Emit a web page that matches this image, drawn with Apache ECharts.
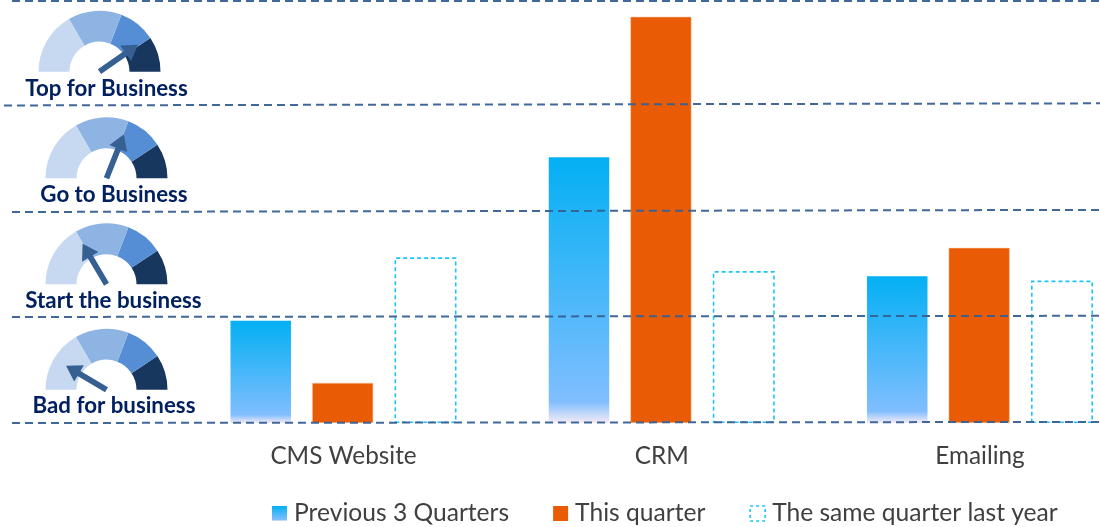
<!DOCTYPE html>
<html>
<head>
<meta charset="utf-8">
<style>html,body{margin:0;padding:0;background:#fff}#c{width:1100px;height:527px}</style>
<script src="https://cdn.jsdelivr.net/npm/echarts@6/dist/echarts.min.js"></script>
</head>
<body>
<div id="c"></div>
<script>
// Data
const categories = ['CMS Website', 'CRM', 'Emailing'];
const previous3Quarters = [0.97, 2.52, 1.39];
const thisQuarter = [0.38, 3.85, 1.66];
const sameQuarterLastYear = [1.57, 1.44, 1.35];
const bandLevelsLeft = [0, 1.005, 2.0, 3.01, 4];
const bandLevelsRight = [0.01, 1.016, 2.02, 3.03, 4];
const bandStartX = [12, 12, 12, 4, 12];
const gaugeNames = ['Top for Business', 'Go to Business', 'Start the business', 'Bad for business'];
const gaugeValues = [80.5, 62, 33, 17];

// Layout
const gaugeCenters = [[99.5, 71.7], [106.5, 178.3], [106.5, 284.3], [106.5, 389.7]];
const gaugeTitleOffsets = [[7, 17.5], [7.5, 17], [7, 17], [7.5, 16.5]];
const gaugeStops = [[0.333, '#C6D9F1'], [0.617, '#8EB4E3'], [0.814, '#558ED5'], [1, '#17375E']];
const arrowIcon = 'path://M50 0 L100 32 L65 32 L65 100 L35 100 L35 32 L0 32 Z';
const prevGradient = {
  type: 'linear', x: 0, y: 0, x2: 0, y2: 1,
  colorStops: [
    { offset: 0, color: '#03B0F3' },
    { offset: 0.92, color: '#80BEFF' },
    { offset: 1, color: '#F6EBF6' }
  ]
};

const valueAxisBase = { type: 'value', min: 0, max: 4, interval: 1, show: false };

const dividerSeries = bandLevelsLeft.map((lv, i) => ({
  type: 'line',
  name: 'divider' + i,
  xAxisIndex: 0,
  yAxisIndex: 0,
  silent: true,
  symbol: 'none',
  z: 5,
  clip: false,
  lineStyle: { color: '#376092', width: 2, type: [8, 5], opacity: 0.95 },
  data: [[bandStartX[i], lv], [1100, bandLevelsRight[i]]]
}));

const gaugeSeries = gaugeNames.map((name, i) => ({
  type: 'gauge',
  name: name,
  center: gaugeCenters[i],
  radius: 61,
  startAngle: 180,
  endAngle: 0,
  min: 0,
  max: 100,
  z: 6,
  silent: true,
  axisLine: { lineStyle: { width: 31, color: gaugeStops } },
  splitLine: { show: false },
  axisTick: { show: false },
  axisLabel: { show: false },
  progress: { show: false },
  anchor: { show: false },
  pointer: { icon: arrowIcon, length: 47, width: 19, itemStyle: { color: '#376092' } },
  title: {
    show: true,
    offsetCenter: gaugeTitleOffsets[i],
    color: '#002060',
    fontFamily: 'Lato',
    fontWeight: 700,
    fontSize: 22.3
  },
  detail: { show: false },
  data: [{ name: name, value: gaugeValues[i] }]
}));

const option = {
  backgroundColor: '#fff',
  animation: false,
  textStyle: { fontFamily: 'Lato' },
  grid: [
    { left: 0, top: 1, width: 1100, height: 422 },
    { left: 343.5, top: 1, width: 636.5, height: 422 }
  ],
  xAxis: [
    { type: 'value', gridIndex: 0, min: 0, max: 1100, show: false },
    {
      type: 'category', gridIndex: 1, data: categories, boundaryGap: false,
      axisLine: { show: false }, axisTick: { show: false },
      axisLabel: { color: '#404040', fontSize: 24.3, margin: 21, fontFamily: 'Lato' }
    }
  ],
  yAxis: [
    Object.assign({ gridIndex: 0 }, valueAxisBase),
    Object.assign({ gridIndex: 1 }, valueAxisBase)
  ],
  legend: {
    left: 267, top: 496, itemWidth: 15, itemHeight: 15, itemGap: 44,
    selectedMode: false,
    textStyle: { color: '#404040', fontSize: 24.6, fontFamily: 'Lato', padding: [0, 0, 0, 2] },
    data: [
      { name: 'Previous 3 Quarters', icon: 'rect' },
      { name: 'This quarter', icon: 'rect', itemStyle: { color: '#E95C05', borderWidth: 0 } },
      {
        name: 'The same quarter last year', icon: 'rect',
        itemStyle: { color: 'rgba(255,255,255,0)', borderColor: '#1CC4F5', borderWidth: 1.6, borderType: [3, 3] }
      }
    ]
  },
  series: [
    {
      type: 'bar', name: 'Previous 3 Quarters', xAxisIndex: 1, yAxisIndex: 1,
      barWidth: 60.5, barGap: '35%', clip: false,
      itemStyle: { color: prevGradient },
      data: previous3Quarters
    },
    {
      type: 'bar', name: 'This quarter', xAxisIndex: 1, yAxisIndex: 1,
      barWidth: 61, barGap: '35%', clip: false,
      itemStyle: { color: '#E95C05', borderColor: '#F8C8A8', borderWidth: 0.5 },
      data: thisQuarter
    },
    {
      type: 'bar', name: 'The same quarter last year', xAxisIndex: 1, yAxisIndex: 1,
      barWidth: 62, barGap: '35%', clip: false,
      itemStyle: { color: 'rgba(255,255,255,0)', borderColor: '#1CC4F5', borderWidth: 1.6, borderType: [4, 3] },
      data: sameQuarterLastYear
    }
  ].concat(dividerSeries, gaugeSeries)
};

const chart = echarts.init(document.getElementById('c'), null, { renderer: 'canvas' });
chart.setOption(option);
</script>
</body>
</html>
